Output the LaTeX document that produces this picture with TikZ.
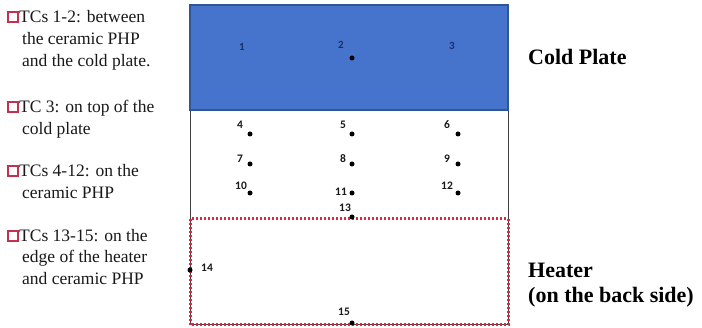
\documentclass[tikz,border=0pt]{standalone}
\usepackage{fontspec}
\setmainfont{Liberation Serif}
\newfontfamily\numfont{Carlito}
\begin{document}
\begin{tikzpicture}[x=1pt,y=-1pt,
  lefttext/.style={anchor=base west,inner sep=0pt,font=\fontsize{17.5}{20}\selectfont,text=black!90},
  bigtext/.style={anchor=base west,inner sep=0pt,font=\fontsize{22}{26}\selectfont\bfseries},
  chk/.style={draw=chkred,line width=1.5pt,fill=white,minimum size=10pt,inner sep=0pt},
  tclabel/.style={inner sep=0pt,font=\numfont\bfseries\fontsize{11.5}{13}\selectfont,text=black!90},
  bluelabel/.style={inner sep=0pt,font=\numfont\bfseries\fontsize{11}{13}\selectfont,text=darkblue},
  tcdot/.style={circle,fill=black,inner sep=0pt,minimum size=5pt},
]
\definecolor{chkred}{HTML}{C6304E}
\definecolor{plateblue}{HTML}{4673CC}
\definecolor{plateedge}{HTML}{2F5597}
\definecolor{darkblue}{HTML}{1A2F6A}
\definecolor{heatred}{HTML}{F0203C}
\useasboundingbox (0,0) rectangle (702,328);
\fill[white] (0,0) rectangle (702,328);

% plate
\draw[draw=black!75,line width=1pt] (190,5) rectangle (508,325);
\fill[plateblue] (190,5) rectangle (508,110);
\draw[plateedge,line width=1.2pt] (190,5) rectangle (508,110);
\draw[heatred,line width=3pt,dash pattern=on 2pt off 2pt] (190,219) rectangle (508,325);

% left text
\node[chk] (c1) at (13,17) {};
\node[lefttext] (t1a) at (19,23) {TCs 1-2: between};
\node[lefttext] (t1b) at (22,45) {the ceramic PHP};
\node[lefttext] (t1c) at (22,67) {and the cold plate.};
\node[chk] (c2) at (13,107) {};
\node[lefttext] (t2a) at (19,113) {TC 3: on top of the};
\node[lefttext] (t2b) at (22,135) {cold plate};
\node[chk] (c3) at (13,171) {};
\node[lefttext] (t3a) at (19,177) {TCs 4-12: on the};
\node[lefttext] (t3b) at (22,199) {ceramic PHP};
\node[chk] (c4) at (13,236) {};
\node[lefttext] (t4a) at (19,242) {TCs 13-15: on the};
\node[lefttext] (t4b) at (22,263) {edge of the heater};
\node[lefttext] (t4c) at (22,285) {and ceramic PHP};

% right text
\node[bigtext] (cp) at (528,65) {Cold Plate};
\node[bigtext] (ht) at (528,278) {Heater};
\node[bigtext] (hb) at (528,303) {(on the back side)};

% thermocouples
\node[bluelabel] (l1) at (242,47) {1};
\node[bluelabel] (l2) at (341,45) {2};
\node[bluelabel] (l3) at (452,46) {3};
\node[tcdot] (d2) at (352,58) {};

\node[tclabel] (l4) at (240,125) {4};   \node[tcdot] (d4) at (250,134) {};
\node[tclabel] (l5) at (343,125) {5};   \node[tcdot] (d5) at (352,134) {};
\node[tclabel] (l6) at (447,125) {6};   \node[tcdot] (d6) at (458,134) {};
\node[tclabel] (l7) at (240,159) {7};   \node[tcdot] (d7) at (250,164) {};
\node[tclabel] (l8) at (343,159) {8};   \node[tcdot] (d8) at (352,164) {};
\node[tclabel] (l9) at (447,159) {9};   \node[tcdot] (d9) at (458,164) {};
\node[tclabel] (l10) at (241,186) {10}; \node[tcdot] (d10) at (250,193) {};
\node[tclabel] (l11) at (341,192) {11}; \node[tcdot] (d11) at (352,193) {};
\node[tclabel] (l12) at (447,186) {12}; \node[tcdot] (d12) at (458,193) {};
\node[tclabel] (l13) at (345,208) {13}; \node[tcdot] (d13) at (352,217) {};
\node[tclabel] (l14) at (207,268) {14}; \node[tcdot] (d14) at (190,270) {};
\node[tclabel] (l15) at (344,312) {15}; \node[tcdot] (d15) at (352,323) {};
\end{tikzpicture}
\end{document}
